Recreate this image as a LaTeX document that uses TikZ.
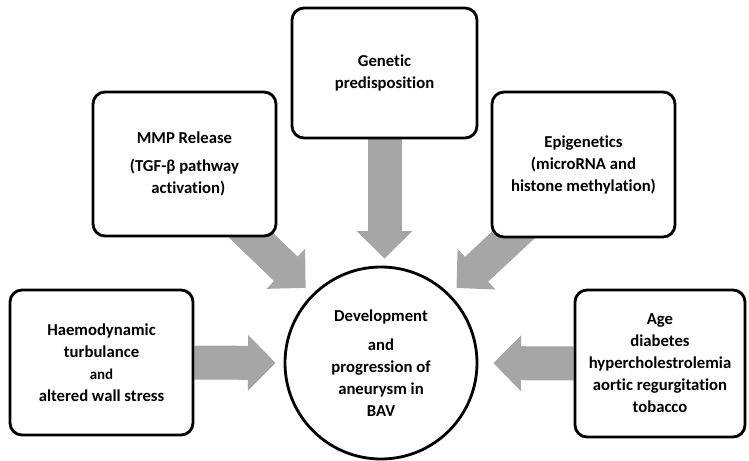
\documentclass[tikz,border=0pt]{standalone}
\usepackage{fontspec}
\setmainfont{Carlito}[Ligatures=NoCommon,Contextuals=NoAlternate]
\usetikzlibrary{arrows.meta,backgrounds,calc}
\definecolor{arrowgray}{RGB}{166,166,166}

\begin{document}
\begin{tikzpicture}[
  factor/.style={draw,line width=1.6pt,rounded corners=0.24cm,fill=white,align=center,
    font=\bfseries\fontsize{9.5}{12.5}\selectfont,minimum width=3.66cm,minimum height=2.9cm},
  fatarrow/.style={arrowgray,line width=0.68cm,-{Triangle[length=0.55cm,width=1.08cm]}}
]
\useasboundingbox (0,0) rectangle (14.98,9.2);

% Outcome in the middle
\node[circle,draw,line width=1.6pt,fill=white,minimum size=3.84cm,align=center,
  font=\bfseries\fontsize{9.5}{12.5}\selectfont] (dev) at (7.62,1.94)
  {Development\\[4pt] and\\ progression of\\ aneurysm in\\ BAV};

% Factors around it
\node[factor] (haemo) at (2.03,1.95)
  {Haemodynamic\\ turbulance\\ {\fontsize{8.5}{12.5}\selectfont and}\\ altered wall stress};
\node[factor,minimum height=2.88cm] (mmp) at (3.69,5.92)
  {MMP Release\\[3pt] (TGF-β pathway\\ \ \ activation)};
\node[factor,minimum width=3.7cm,minimum height=2.6cm] (genetic) at (7.69,7.74)
  {Genetic\\ predisposition};
\node[factor] (epi) at (11.67,5.91)
  {Epigenetics\\ (microRNA and\\ histone methylation)};
\node[factor,minimum width=3.4cm,minimum height=2.94cm] (risk) at (13.2,1.93)
  {Age\\ diabetes\\ hypercholestrolemia\\ aortic regurgitation\\ tobacco};

% Arrows behind the boxes
\begin{scope}[on background layer]
\draw[fatarrow,shorten >=0.16cm] (haemo.east) -- (dev.west);
\draw[fatarrow,shorten >=0.30cm] (risk.west) -- (dev.east);
\draw[fatarrow,shorten >=0.14cm] (genetic.south) -- (genetic.south |- dev.north);
\draw[fatarrow,shorten >=0.18cm] ($(mmp.south east)+(-0.9,0.4)$) -- (dev.135);
\draw[fatarrow,shorten >=0.18cm] ($(epi.south west)+(0.82,0.41)$) -- (dev.45);
\end{scope}
\end{tikzpicture}
\end{document}
